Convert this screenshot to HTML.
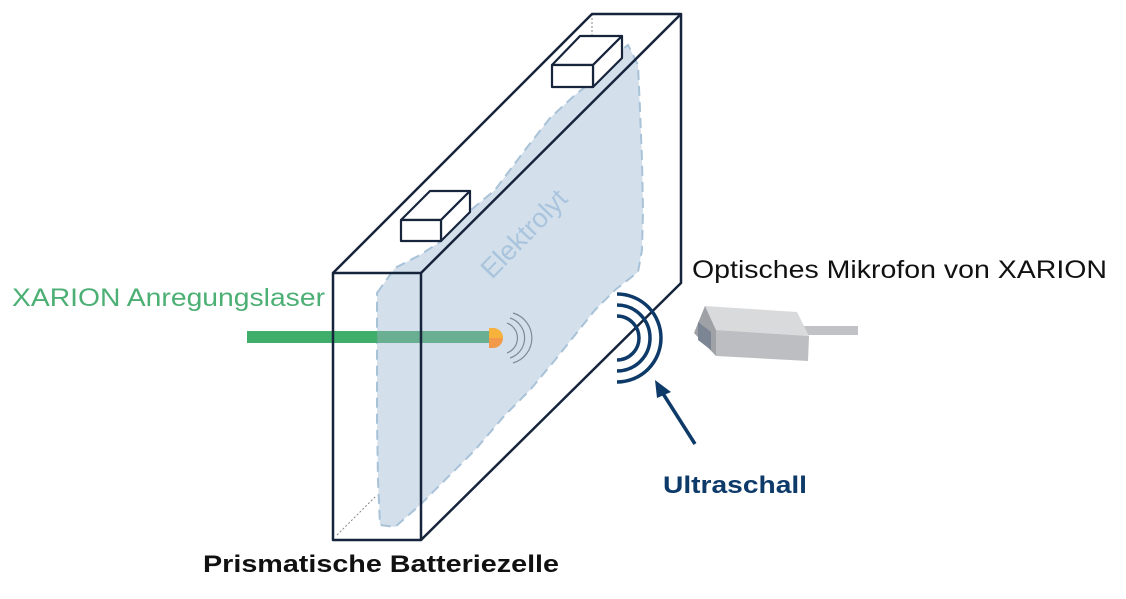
<!DOCTYPE html>
<html><head><meta charset="utf-8"><style>
html,body{margin:0;padding:0;background:#fff;}
svg{display:block;}
</style></head><body>
<svg width="1126" height="599" viewBox="0 0 1126 599" xmlns="http://www.w3.org/2000/svg">
<rect width="1126" height="599" fill="#fff"/>
<!-- electrolyte blob -->
<path d="M377,293 L395,268 L420,255 L440,242 L465,215 L495,190 L525,150 L550,118 L575,95 L600,75 L615,55 L628,45 L638,65 L640,110 L642,160 L643,210 L642,250 L638,272 L615,290 L595,310 L575,335 L555,360 L530,390 L505,415 L475,450 L445,480 L420,505 L395,527 L380,525 L378,480 L377,420 L377,350 Z" fill="#d3e0ec" stroke="#a8c2d8" stroke-width="2" stroke-dasharray="10,6"/>
<text x="0" y="0" transform="translate(492,280) rotate(-46)" font-family="Liberation Sans, sans-serif" font-size="27" fill="#a9c4dc">Elektrolyt</text>
<!-- dotted hidden lines -->
<line x1="592" y1="14" x2="592" y2="62" stroke="#888" stroke-width="1" stroke-dasharray="2,2"/>
<line x1="337" y1="535" x2="375" y2="497" stroke="#888" stroke-width="1" stroke-dasharray="2,2"/>
<!-- laser -->
<rect x="247" y="331" width="130" height="12" fill="#3fae6b"/>
<rect x="377" y="331" width="114" height="12" fill="#5faa8a" opacity="0.9"/>
<path d="M489,328 h4 a10,10 0 0 1 0,20 h-4 Z" fill="#f29a4a"/>
<path d="M489,328 h4 a10,10 0 0 1 10,10 h-14 Z" fill="#f7b23b"/>
<g fill="none" stroke="#7d8a99" stroke-width="1.2">
<path d="M507,323 a16,16 0 0 1 0,30"/>
<path d="M510,318 a21,21 0 0 1 0,40"/>
<path d="M513,313 a26,26 0 0 1 0,50"/>
</g>
<!-- battery box -->
<g fill="none" stroke="#16243c" stroke-width="2.5" stroke-linejoin="round">
<rect x="333" y="273" width="88" height="267"/>
<path d="M333,273 L592,14 L681,14 L421,273"/>
<path d="M681,14 L681,283 L421,540"/>
</g>
<!-- terminals -->
<g fill="#fff" stroke="#16243c" stroke-width="2.2" stroke-linejoin="round">
<path d="M552,65 L580,36 L622,36 L593,65 Z"/>
<path d="M593,65 L622,36 L622,58 L593,87 Z"/>
<rect x="552" y="65" width="41" height="22"/>
<path d="M401,220 L430,191 L470,191 L441,220 Z"/>
<path d="M441,220 L470,191 L470,212 L441,241 Z"/>
<rect x="401" y="220" width="40" height="21"/>
</g>
<!-- ultrasound arcs -->
<g fill="none" stroke="#0d3a68" stroke-width="3.5">
<path d="M617,316 a22,22 0 0 1 0,44"/>
<path d="M617,305 a33,33 0 0 1 0,66"/>
<path d="M617,294 a44,44 0 0 1 0,88"/>
</g>
<line x1="695" y1="444" x2="662" y2="392" stroke="#0d3a68" stroke-width="3.5"/>
<path d="M655,380 L671,392 L657,398 Z" fill="#0d3a68"/>
<!-- microphone -->
<rect x="800" y="326" width="58" height="9" fill="#c0c2c5"/>
<path d="M705,306 L797,312 L809,336 L716,330 Z" fill="#d9dadc"/>
<path d="M716,330 L809,336 L808,361 L716,356 Z" fill="#bcbec1"/>
<path d="M705,306 L716,330 L716,356 L694,333 Z" fill="#9ea1a5"/>
<path d="M698,322 L711,332 L711,350 L698,340 Z" fill="#7c8594"/>
<!-- labels -->
<text x="12" y="306" font-family="Liberation Sans, sans-serif" font-size="25" fill="#4caf74" textLength="313" lengthAdjust="spacingAndGlyphs">XARION Anregungslaser</text>
<text x="692" y="278" font-family="Liberation Sans, sans-serif" font-size="25" fill="#111" textLength="415" lengthAdjust="spacingAndGlyphs">Optisches Mikrofon von XARION</text>
<text x="663" y="493" font-family="Liberation Sans, sans-serif" font-size="24" font-weight="bold" fill="#0d3a68" textLength="144" lengthAdjust="spacingAndGlyphs">Ultraschall</text>
<text x="203" y="572" font-family="Liberation Sans, sans-serif" font-size="24" font-weight="bold" fill="#111" textLength="356" lengthAdjust="spacingAndGlyphs">Prismatische Batteriezelle</text>
</svg>
</body></html>
